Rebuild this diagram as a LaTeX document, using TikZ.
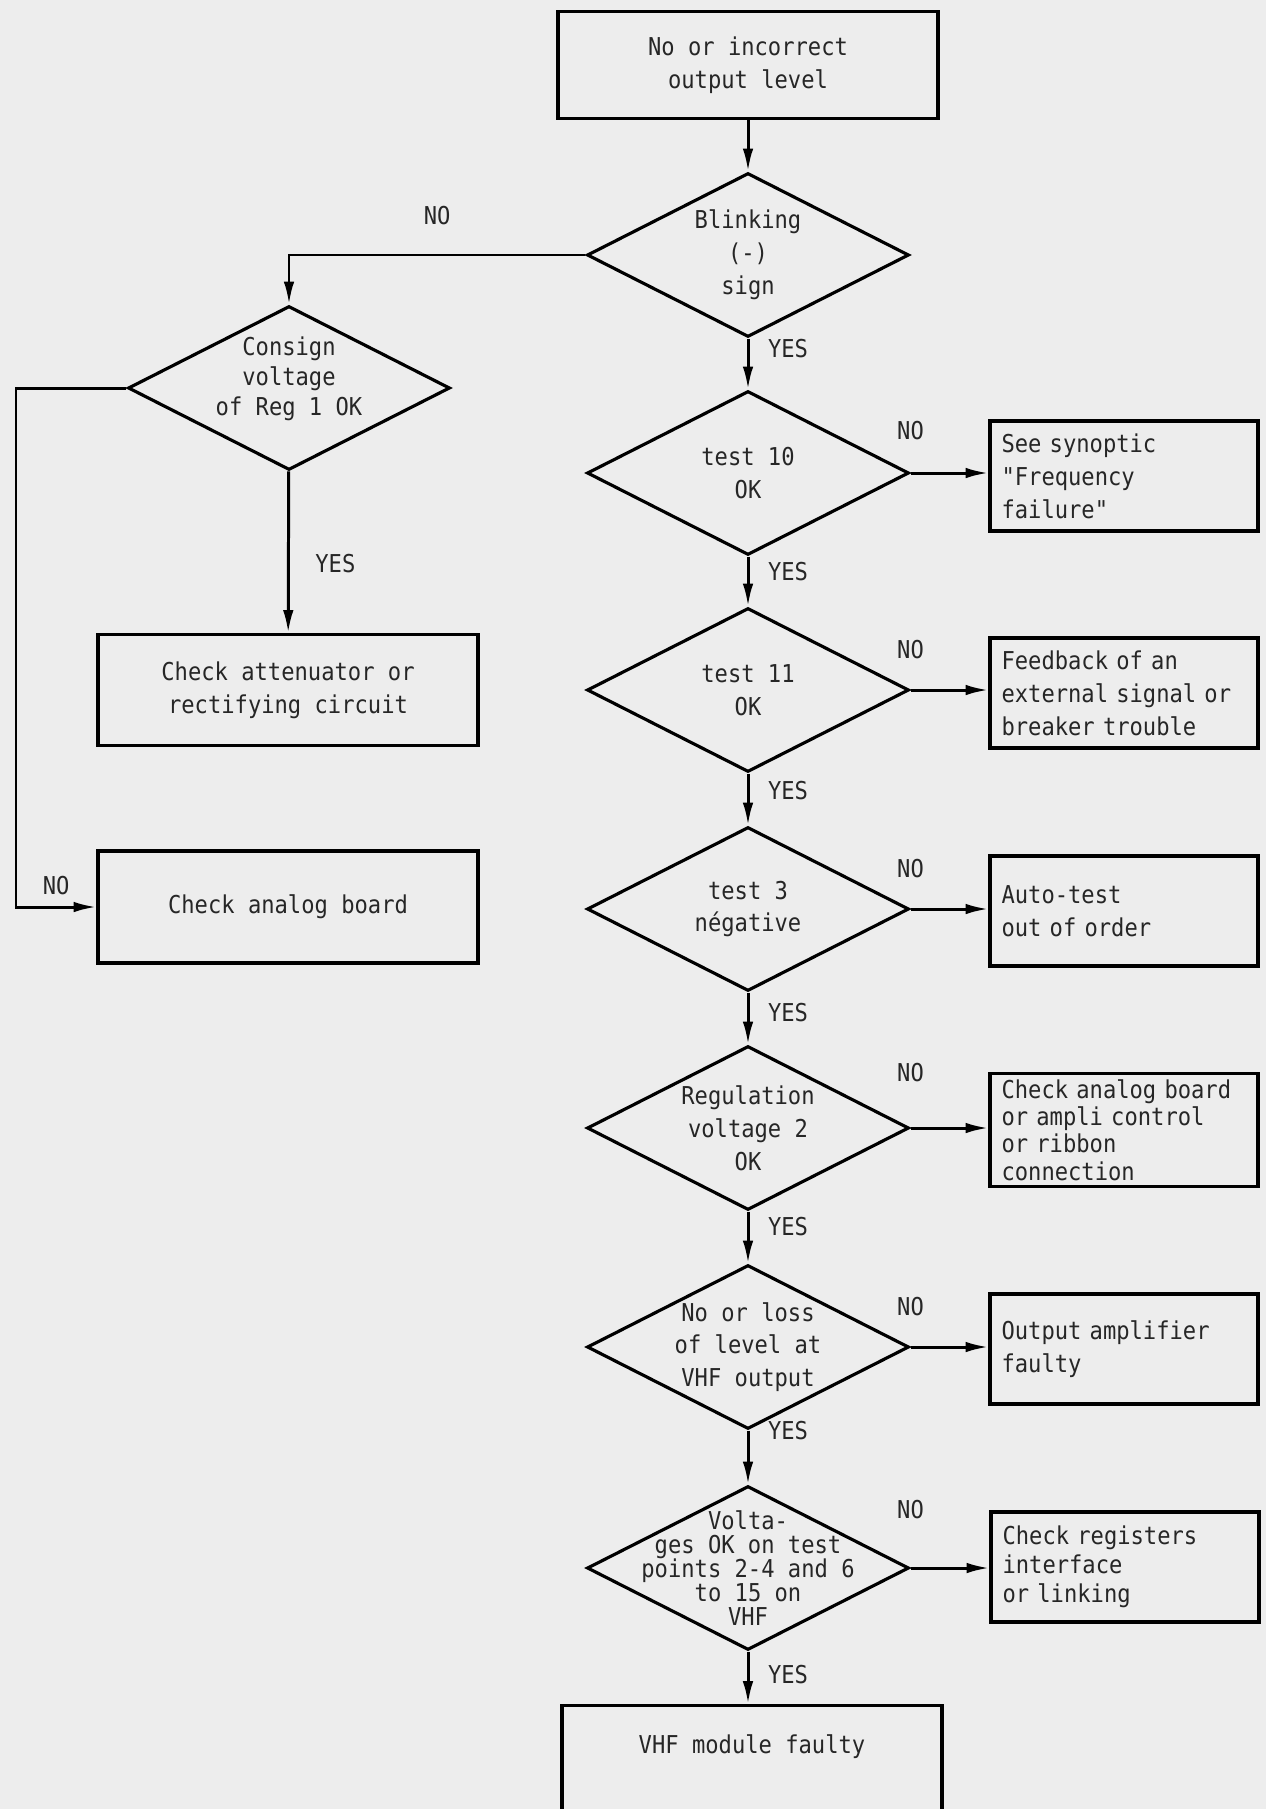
\documentclass[tikz,border=0pt]{standalone}
\usepackage{fontspec}
\newfontfamily\plotfont[FakeStretch=0.9]{DejaVu Sans Mono}
\usetikzlibrary{shapes,arrows.meta,positioning}

\begin{document}
\begin{tikzpicture}[x=0.02cm, y=-0.02cm,
  >={Latex[length=13pt,width=6pt]},
  every node/.style={font=\plotfont\fontsize{14pt}{18.7pt}\selectfont, text=black!85},
  box/.style={draw=black, line width=1.8pt, rectangle, minimum width=7.6cm, minimum height=2.2cm, align=center},
  sidebox/.style={draw=black, line width=1.8pt, rectangle, minimum width=5.36cm, minimum height=2.2cm, inner xsep=0.23cm, text width=4.9cm, align=left},
  decision/.style={draw=black, line width=1.8pt, diamond, minimum width=6.44cm, minimum height=3.28cm, inner sep=0pt},
  dtext/.style={align=center},
  flow/.style={->, line width=1.7pt}]

\useasboundingbox (0,0) rectangle (1266,1809);
\clip (0,0) rectangle (1266,1809);
\fill[black!7] (0,0) rectangle (1266,1809);

% start
\node[box, minimum height=2.14cm] (start) at (748,65) {No or incorrect\\output level};

% main line of tests
\node[decision, label={[dtext]center:{Blinking\\(-)\\sign}}] (blink) at (748,255) {};
\node[decision, label={[dtext]center:{test 10\\OK}}] (test10) at (748,473) {};
\node[decision, label={[dtext]center:{test 11\\OK}}] (test11) at (748,690) {};
\node[decision, label={[dtext]center:{test 3\\négative}}] (test3) at (748,909) {};
\node[decision, label={[dtext]center:{Regulation\\voltage 2\\OK}}] (reg2) at (748,1128) {};
\node[decision, label={[dtext]center:{No or loss\\of level at\\VHF output}}] (vhfout) at (748,1347) {};
\node[decision, label={[dtext, font=\plotfont\fontsize{14pt}{13.7pt}\selectfont]center:{Volta-\\ges OK on test\\points 2-4 and 6\\to 15 on\\VHF}}] (volt) at (748,1568) {};

% left branch
\node[decision, label={[dtext, yshift=0.18cm, font=\plotfont\fontsize{14pt}{17pt}\selectfont]center:{Consign\\voltage\\of Reg 1 OK}}] (consign) at (289,388) {};
\node[box, minimum height=2.22cm] (atten) at (288,690) {Check attenuator or\\rectifying circuit};
\node[box, minimum height=2.24cm] (analog) at (288,907) {Check analog board};
\coordinate (bendL) at (16,388);

% right side boxes
\node[sidebox] (synoptic) at (1124,476) {See synoptic\\"Frequency\\failure"};
\node[sidebox] (feedback) at (1124,693) {Feedback of an\\external signal or\\breaker trouble\\[-4pt]};
\node[sidebox] (autotest) at (1124,911) {Auto-test\\out of order};
\node[sidebox, font=\plotfont\fontsize{14pt}{15.6pt}\selectfont] (ampli) at (1124,1130) {Check analog board\\or ampli control\\or ribbon\\connection};
\node[sidebox] (outamp) at (1124,1349) {Output amplifier\\faulty\\[4pt]};
\node[sidebox, font=\plotfont\fontsize{14pt}{16.5pt}\selectfont] (registers) at (1125,1567) {Check registers\\interface\\or linking\\[8pt]};

% end
\node[box, anchor=north, minimum height=0pt, inner ysep=0pt, text height=0.95cm, text depth=1.5cm] (module) at (752,1704) {VHF module faulty};

% arrows down the main line
\draw[flow] (start) -- (blink);
\draw[flow] (blink) -- (test10) node[pos=0, xshift=0.8cm, yshift=-0.2cm] {YES};
\draw[flow] (test10) -- (test11) node[pos=0, xshift=0.8cm, yshift=-0.3cm] {YES};
\draw[flow] (test11) -- (test3) node[pos=0, xshift=0.8cm, yshift=-0.34cm] {YES};
\draw[flow] (test3) -- (reg2) node[pos=0, xshift=0.8cm, yshift=-0.4cm] {YES};
\draw[flow] (reg2) -- (vhfout) node[pos=0, xshift=0.8cm, yshift=-0.3cm] {YES};
\draw[flow] (vhfout) -- (volt) node[pos=0, xshift=0.8cm, yshift=0cm] {YES};
\draw[flow] (volt.south) -- (volt.south |- module.north) node[pos=0, xshift=0.8cm, yshift=-0.46cm] {YES};

% NO exits to the right
\draw[flow] (test10.east) -- (synoptic.west |- test10.east) node[pos=0, yshift=0.84cm] {NO};
\draw[flow] (test11.east) -- (feedback.west |- test11.east) node[pos=0, yshift=0.8cm] {NO};
\draw[flow] (test3.east) -- (autotest.west |- test3.east) node[pos=0, yshift=0.8cm] {NO};
\draw[flow] (reg2.east) -- (ampli.west |- reg2.east) node[pos=0, yshift=1.1cm] {NO};
\draw[flow] (vhfout.east) -- (outamp.west |- vhfout.east) node[pos=0, yshift=0.8cm] {NO};
\draw[flow] (volt.east) -- (registers.west |- volt.east) node[pos=0, yshift=1.16cm] {NO};

% left branch
\draw[flow] (blink.west) -| (consign.north) node[pos=0.25, yshift=0.78cm] {NO};
\draw[flow] (consign) -- (atten) node[pos=0.57, xshift=0.94cm] {YES};
\draw[flow] (consign.west) -- (bendL) |- (analog.west) node[pos=0.75, yshift=0.42cm] {NO};
\end{tikzpicture}
\end{document}
